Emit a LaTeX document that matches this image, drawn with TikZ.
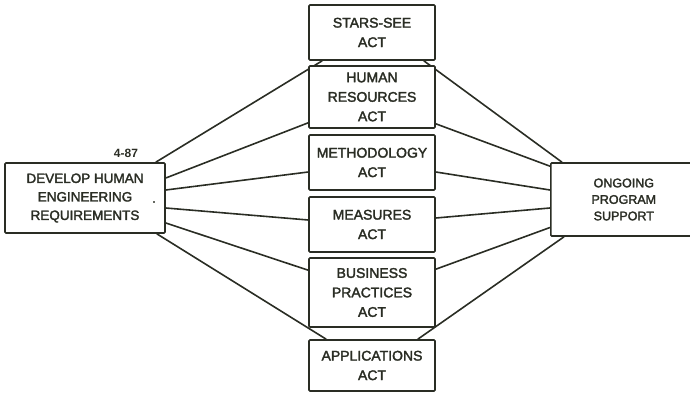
\documentclass[tikz,border=0pt]{standalone}
\usepackage{fontspec}
\setmainfont{Liberation Sans}
\newfontfamily\boxfont[FakeBold=2.2]{Liberation Sans}
\usetikzlibrary{calc,backgrounds}
\definecolor{ink}{RGB}{42,45,36}

\begin{document}
\begin{tikzpicture}[x=1pt,y=-1pt,
  frame/.style={draw=ink, line width=1.6pt, fill=white, rounded corners=1pt,
    inner sep=0pt, text=ink, font=\boxfont\fontsize{14}{19.5}\selectfont},
  box/.style={frame, align=center},
  actbox/.style={box, minimum width=126pt},
  link/.style={draw=ink, line width=1.6pt}]
\useasboundingbox (0,0) rectangle (690,393);
\clip (0,0) rectangle (690,393);

% end boxes
\node[box, minimum width=160pt, minimum height=70pt,
  font=\boxfont\fontsize{13.5}{18.5}\selectfont] (L) at (85,198)
  {DEVELOP HUMAN\\ENGINEERING\\REQUIREMENTS};
\node[text=ink, font=\boxfont\fontsize{12}{12}\selectfont, inner sep=0pt] (Ldot) at (154,202) {.};
\node[text=ink, font=\bfseries\fontsize{12}{12}\selectfont, inner sep=0pt] (code) at (126,153) {4-87};
% runs past the right edge; the text sits left of the box centre
\node[frame, minimum height=73pt, anchor=west,
  font=\boxfont\fontsize{12.5}{16.5}\selectfont] (R) at (550,199.5)
  {\makebox[180pt][l]{\parbox{146pt}{\centering ONGOING\\PROGRAM\\SUPPORT}}};

% act boxes
\node[actbox, minimum height=55pt] (S) at (372,32.5) {STARS-SEE\\ACT};
\node[actbox, minimum height=62pt] (H) at (372,97) {HUMAN\\RESOURCES\\ACT};
\node[actbox, minimum height=55pt] (M) at (372,162.5) {METHODOLOGY\\ACT};
\node[actbox, minimum height=55pt] (Me) at (372,224.5) {MEASURES\\ACT};
\node[actbox, minimum height=69pt] (B) at (372,292.5) {BUSINESS\\PRACTICES\\ACT};
\node[actbox, minimum height=51pt] (A) at (372,365.5) {APPLICATIONS\\ACT};

% connectors, drawn behind the boxes
\begin{scope}[on background layer]
  \draw[link] ($(L.north east)+(-10,0)$) -- ($(S.south west)+(14,0)$);
  \draw[link] ($(L.east)+(0,-20)$) -- ($(H.south west)+(0,-6)$);
  \draw[link] ($(L.east)+(0,-8)$) -- ($(M.west)+(0,9.5)$);
  \draw[link] ($(L.east)+(0,10)$) -- ($(Me.west)+(0,-4.5)$);
  \draw[link] ($(L.east)+(0,25)$) -- ($(B.north west)+(0,13)$);
  \draw[link] ($(L.south east)+(-9,0)$) -- ($(A.north west)+(18,0)$);

  \draw[link] ($(S.south east)+(-12,0)$) -- ($(R.north west)+(12,0)$);
  \draw[link] ($(H.south east)+(0,-5)$) -- ($(R.north west)+(0,4)$);
  \draw[link] ($(M.east)+(0,9.5)$) -- ($(R.west)+(0,-9.5)$);
  \draw[link] ($(Me.east)+(0,-6.5)$) -- ($(R.west)+(0,8.5)$);
  \draw[link] ($(B.north east)+(0,12)$) -- ($(R.west)+(0,28)$);
  \draw[link] ($(A.north east)+(-18,0)$) -- ($(R.south west)+(14,0)$);
\end{scope}
\end{tikzpicture}
\end{document}
